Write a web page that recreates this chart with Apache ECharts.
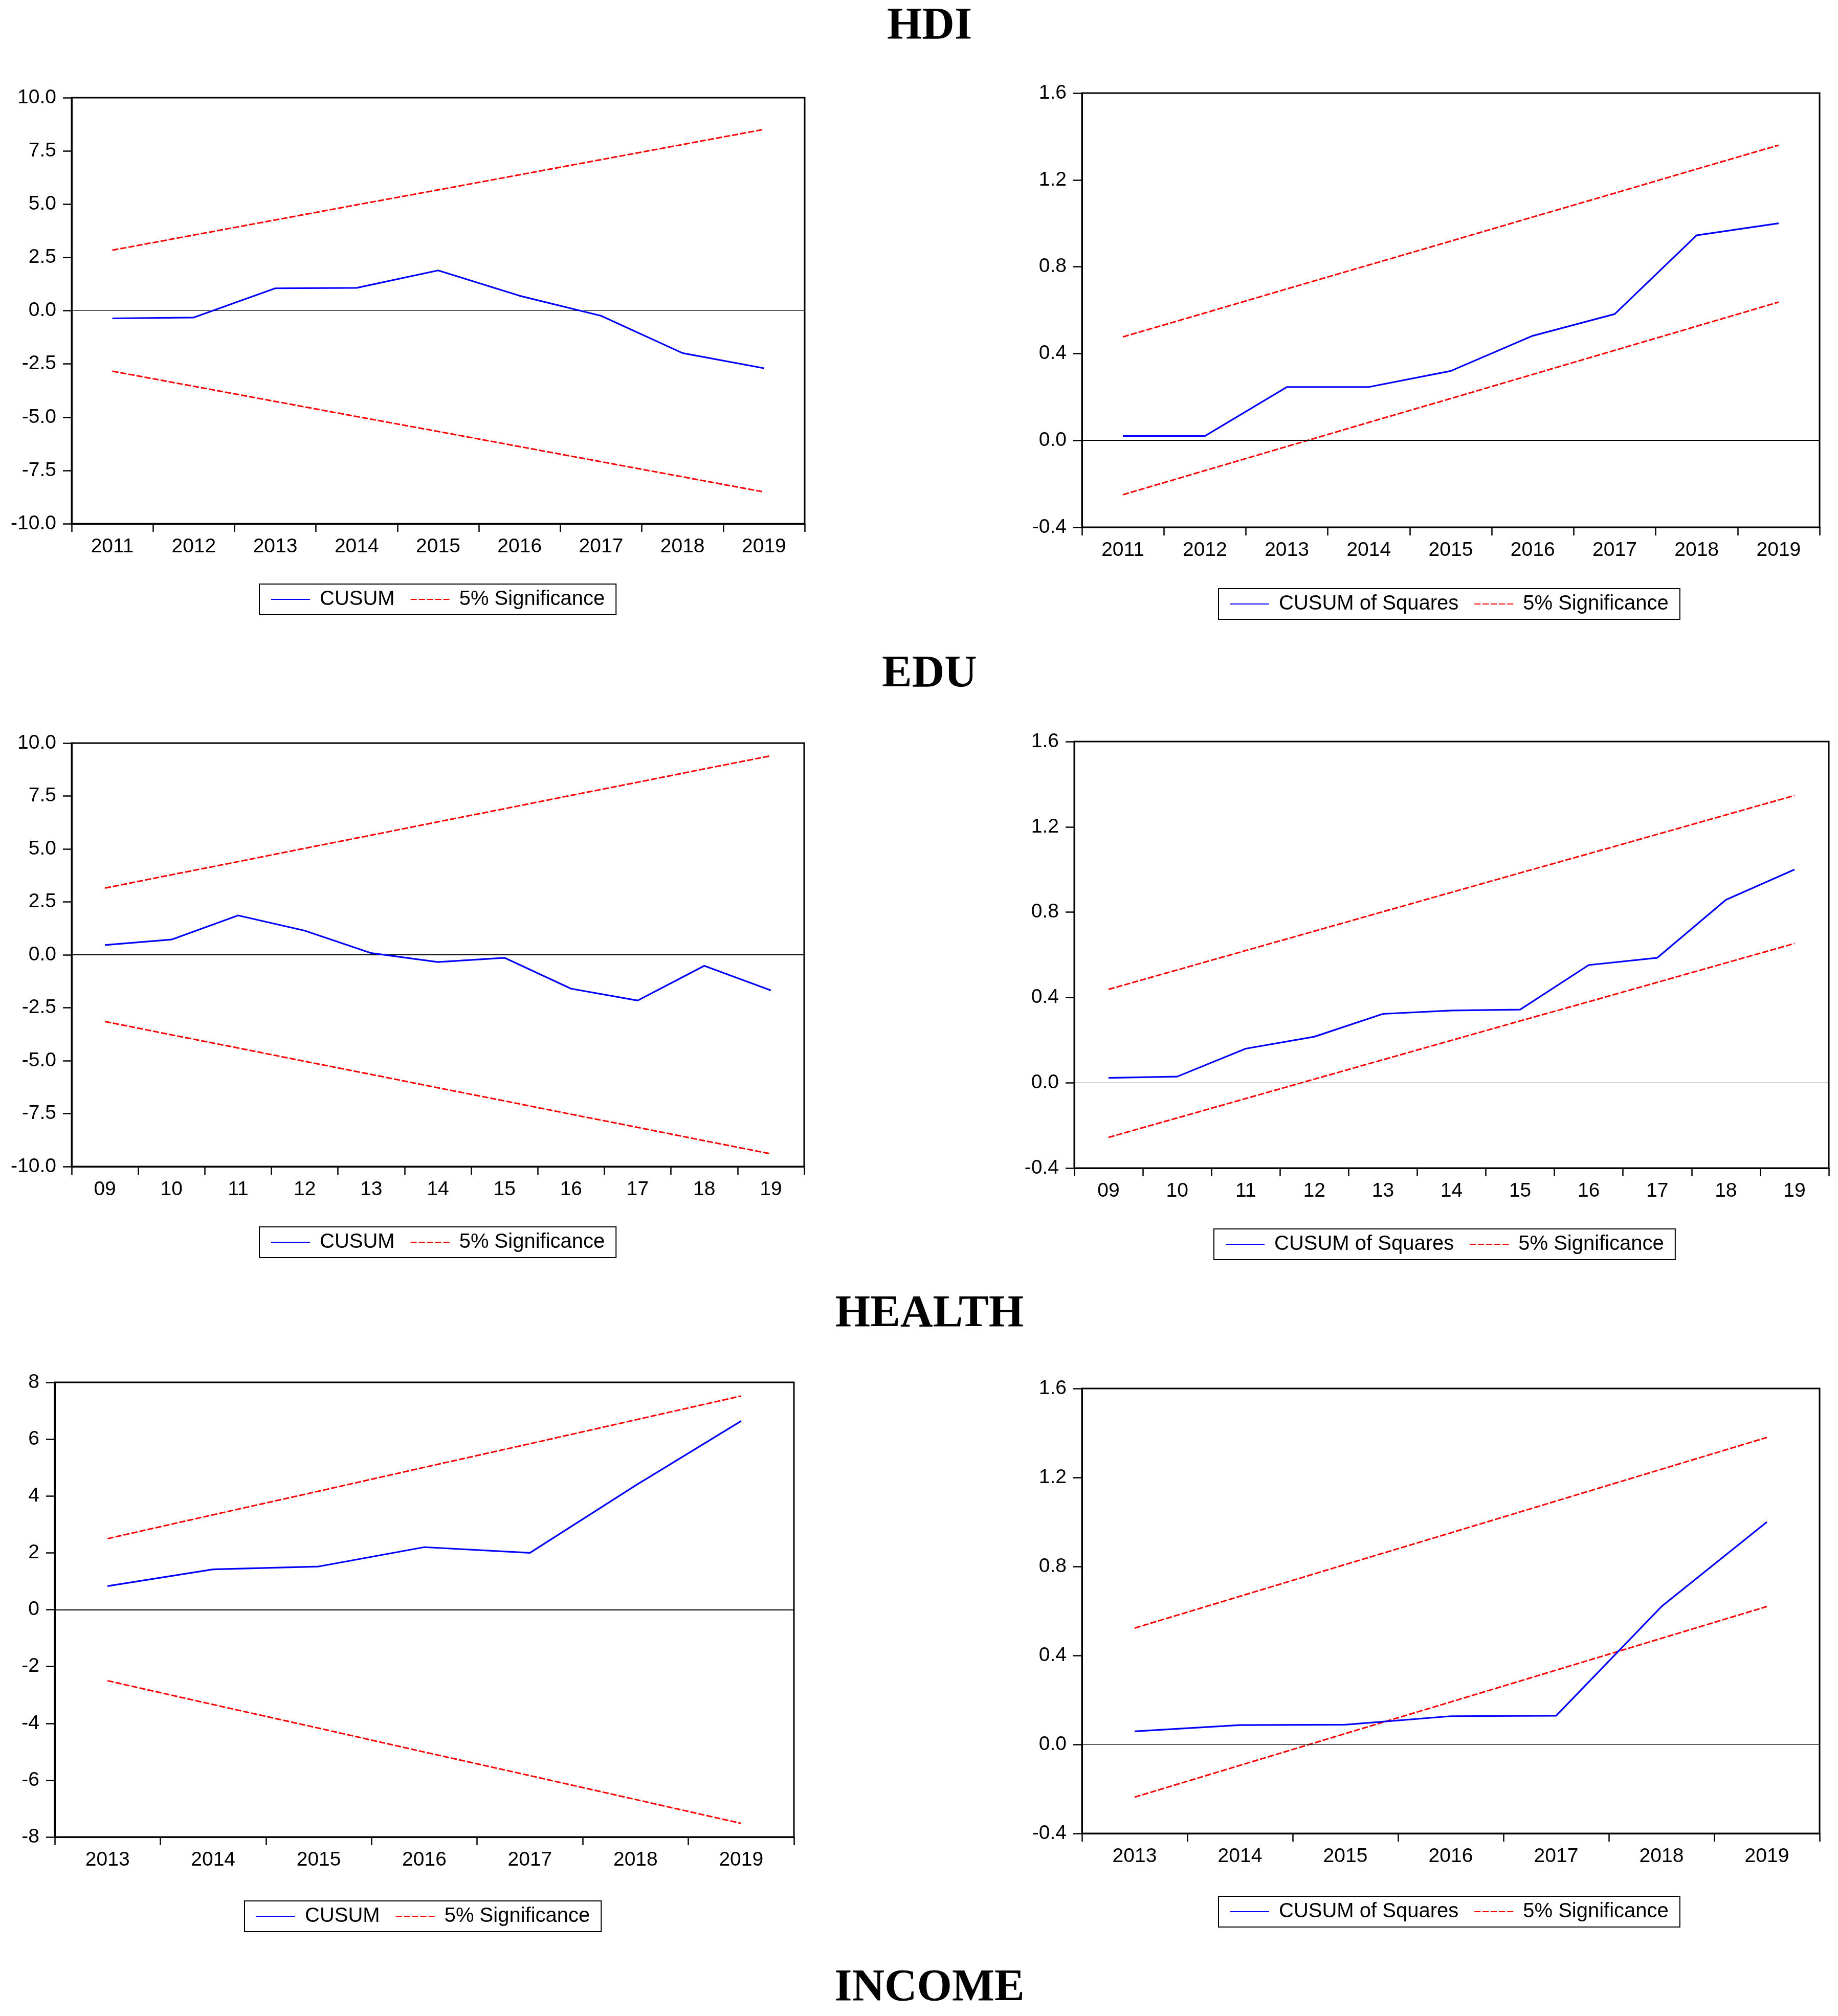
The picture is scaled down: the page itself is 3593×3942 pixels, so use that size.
<!DOCTYPE html>
<html>
<head>
<meta charset="utf-8">
<script src="https://cdn.jsdelivr.net/npm/echarts@6/dist/echarts.min.js"></script>
<style>
html,body{margin:0;padding:0;background:#fff;}
#c{width:3593px;height:3942px;}
</style>
</head>
<body>
<div id="c"></div>
<script>
// ---------------- DATA ----------------
const hdiYears = ['2011','2012','2013','2014','2015','2016','2017','2018','2019'];
const hdiCusum = [-0.36,-0.32,1.05,1.07,1.89,0.70,-0.24,-1.99,-2.70];
const hdiCusumUpper = [2.84,3.55,4.26,4.97,5.67,6.38,7.09,7.80,8.51];
const hdiCusumLower = [-2.84,-3.55,-4.26,-4.97,-5.67,-6.38,-7.09,-7.80,-8.51];
const hdiSq = [0.02,0.02,0.246,0.246,0.32,0.482,0.582,0.945,1.0];
const hdiSqUpper = [0.477,0.587,0.698,0.808,0.918,1.029,1.139,1.250,1.360];
const hdiSqLower = [-0.250,-0.139,-0.028,0.083,0.193,0.304,0.415,0.526,0.637];

const eduYears = ['09','10','11','12','13','14','15','16','17','18','19'];
const eduCusum = [0.46,0.72,1.86,1.14,0.08,-0.34,-0.14,-1.60,-2.16,-0.52,-1.68];
const eduCusumUpper = [3.15,3.78,4.40,5.03,5.65,6.28,6.90,7.53,8.15,8.78,9.40];
const eduCusumLower = [-3.15,-3.78,-4.40,-5.03,-5.65,-6.28,-6.90,-7.53,-8.15,-8.78,-9.40];
const eduSq = [0.023,0.029,0.160,0.216,0.323,0.339,0.343,0.552,0.586,0.858,1.0];
const eduSqUpper = [0.438,0.529,0.620,0.711,0.802,0.893,0.984,1.074,1.165,1.256,1.347];
const eduSqLower = [-0.256,-0.165,-0.074,0.017,0.108,0.199,0.290,0.380,0.471,0.562,0.653];

const healthYears = ['2013','2014','2015','2016','2017','2018','2019'];
const healthCusum = [0.83,1.42,1.52,2.20,2.00,4.37,6.64];
const healthCusumUpper = [2.50,3.34,4.17,5.01,5.84,6.68,7.52];
const healthCusumLower = [-2.50,-3.34,-4.17,-5.01,-5.84,-6.68,-7.52];
const healthSq = [0.059,0.087,0.089,0.127,0.129,0.620,1.0];
const healthSqUpper = [0.523,0.666,0.809,0.951,1.094,1.237,1.380];
const healthSqLower = [-0.237,-0.094,0.049,0.191,0.334,0.477,0.620];

const sectionTitles = ['HDI','EDU','HEALTH','INCOME'];
const cusumName = 'CUSUM';
const cusumSqName = 'CUSUM of Squares';
const sigName = '5% Significance';

// ---------------- LAYOUT ----------------
const panels = [
  {cats:hdiYears, main:hdiCusum, up:hdiCusumUpper, lo:hdiCusumLower, name:cusumName,
   rect:{l:140,r:1573,t:191,b:1024}, y:{min:-10,max:10,interval:2.5,dec:1}, leg:{l:507,t:1142}, zw:1.2},
  {cats:hdiYears, main:hdiSq, up:hdiSqUpper, lo:hdiSqLower, name:cusumSqName,
   rect:{l:2115,r:3557,t:182,b:1031}, y:{min:-0.4,max:1.6,interval:0.4,dec:1}, leg:{l:2382,t:1151}, zw:2},
  {cats:eduYears, main:eduCusum, up:eduCusumUpper, lo:eduCusumLower, name:cusumName,
   rect:{l:140,r:1572,t:1453,b:2281}, y:{min:-10,max:10,interval:2.5,dec:1}, leg:{l:507,t:2399}, zw:2},
  {cats:eduYears, main:eduSq, up:eduSqUpper, lo:eduSqLower, name:cusumSqName,
   rect:{l:2100,r:3575,t:1450,b:2284}, y:{min:-0.4,max:1.6,interval:0.4,dec:1}, leg:{l:2373,t:2403}, zw:1.2},
  {cats:healthYears, main:healthCusum, up:healthCusumUpper, lo:healthCusumLower, name:cusumName,
   rect:{l:107,r:1552,t:2703,b:3592}, y:{min:-8,max:8,interval:2,dec:0}, leg:{l:478,t:3717}, zw:2},
  {cats:healthYears, main:healthSq, up:healthSqUpper, lo:healthSqLower, name:cusumSqName,
   rect:{l:2115,r:3557,t:2715,b:3585}, y:{min:-0.4,max:1.6,interval:0.4,dec:1}, leg:{l:2382,t:3708}, zw:1.2}
];
const titleY = [52, 1319, 2570, 3888];
const titleX = 1817;

const W = 3593, H = 3942;
const labelFont = "'Liberation Sans', Arial, sans-serif";

const grids = [], xAxes = [], yAxes = [], series = [], legends = [];
panels.forEach((p, i) => {
  grids.push({
    left: p.rect.l, top: p.rect.t, width: p.rect.r - p.rect.l, height: p.rect.b - p.rect.t,
    show: true, borderColor: '#000', borderWidth: 3, backgroundColor: '#fff', containLabel: false
  });
  xAxes.push({
    type: 'category', gridIndex: i, data: p.cats, boundaryGap: true, position: 'bottom',
    axisLine: {show: true, onZero: false, lineStyle: {color: '#000', width: 3}},
    axisTick: {show: true, inside: false, length: 16, lineStyle: {color: '#000', width: 2.5}},
    axisLabel: {color: '#000', fontSize: 39, fontFamily: labelFont, margin: 26},
    splitLine: {show: false}
  });
  yAxes.push({
    type: 'value', gridIndex: i, min: p.y.min, max: p.y.max, interval: p.y.interval,
    axisLine: {show: true, onZero: false, lineStyle: {color: '#000', width: 3}},
    axisTick: {show: true, inside: false, length: 17, lineStyle: {color: '#000', width: 2.5}},
    axisLabel: {color: '#000', fontSize: 39, fontFamily: labelFont, margin: 30,
      formatter: (v) => Number(v).toFixed(p.y.dec)},
    splitLine: {show: false}
  });
  series.push({
    type: 'line', name: p.name, xAxisIndex: i, yAxisIndex: i, data: p.main,
    symbol: 'none', lineStyle: {color: '#0000FF', width: 3.2}, itemStyle: {color: '#0000FF'},
    z: 5,
    markLine: {silent: true, symbol: 'none', label: {show: false},
      lineStyle: {color: '#000', width: p.zw, type: 'solid'}, emphasis: {disabled: true},
      data: [{yAxis: 0}]}
  });
  [p.up, p.lo].forEach(arr => {
    series.push({
      type: 'line', name: sigName, xAxisIndex: i, yAxisIndex: i, data: arr,
      symbol: 'none', lineStyle: {color: '#FF0000', width: 3, type: [12, 4]},
      itemStyle: {color: '#FF0000'}, z: 4
    });
  });
  legends.push({
    left: p.leg.l, top: p.leg.t, orient: 'horizontal',
    data: [p.name, sigName], selectedMode: false,
    borderColor: '#000', borderWidth: 2, backgroundColor: '#fff',
    padding: [10, 22, 10, 22], itemGap: 30, itemWidth: 76, itemHeight: 20,
    itemStyle: {opacity: 0},
    textStyle: {color: '#000', fontSize: 40, fontFamily: labelFont, padding: [0, 0, 0, 14]}
  });
});

const graphics = sectionTitles.map((t, k) => ({
  type: 'text', x: titleX, y: titleY[k], silent: true,
  style: {text: t, font: "bold 88px 'Liberation Serif', 'Times New Roman', serif",
    fill: '#000', textAlign: 'center', textVerticalAlign: 'middle', align: 'center', verticalAlign: 'middle'}
}));

const chart = echarts.init(document.getElementById('c'), null, {width: W, height: H, renderer: 'canvas'});
chart.setOption({
  animation: false,
  backgroundColor: '#fff',
  grid: grids, xAxis: xAxes, yAxis: yAxes, series: series, legend: legends,
  graphic: graphics
});
</script>
</body>
</html>
